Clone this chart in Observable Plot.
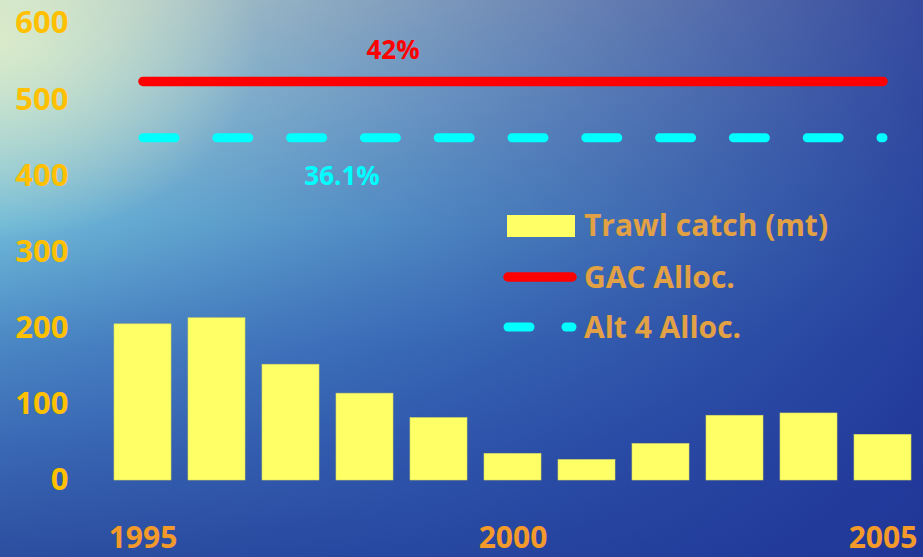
<!DOCTYPE html>
<html>
<head>
<meta charset="utf-8">
<script src="https://cdn.jsdelivr.net/npm/d3@7"></script>
<script src="https://cdn.jsdelivr.net/npm/@observablehq/plot@0.6"></script>
<style>
  html, body { margin: 0; padding: 0; }
  #wrap {
    position: relative; width: 923px; height: 557px; overflow: hidden;
    font-family: "Open Sans", Lato, sans-serif;
    background:
      radial-gradient(ellipse 260px 200px at 0px 40px, rgba(225,238,200,0.85) 0%, rgba(225,238,200,0) 100%),
      linear-gradient(to right, rgba(30,60,160,0) 0%, rgba(30,60,160,0.4) 45%, rgba(30,50,150,0.85) 100%),
      linear-gradient(to bottom, #c0dcd0 0%, #9ccfd8 18%, #6eb9d8 40%, #4a86c4 62%, #3a68b4 80%, #2c4ea0 100%);
  }
  #chart { position: absolute; left: 0; top: 0; }
  #legend { position: absolute; left: 0; top: 0; }
</style>
</head>
<body>
<div id="wrap">
  <div id="chart"></div>
  <svg id="legend" width="923" height="557"></svg>
</div>
<script>
const years = ["1995","1996","1997","1998","1999","2000","2001","2002","2003","2004","2005"];
const trawlCatch = [205, 213, 152, 114, 82, 35, 27, 48, 85, 88, 60];
const gacAlloc = 524;
const alt4Alloc = 450;
const gacLabel = "42%";
const alt4Label = "36.1%";
const yTicks = [0, 100, 200, 300, 400, 500, 600];
const xTicks = ["1995", "2000", "2005"];
const legendLabels = ["Trawl catch (mt)", "GAC Alloc.", "Alt 4 Alloc."];

const bars = years.map((year, i) => ({year, value: trawlCatch[i]}));
const lineEnds = [years[0], years[years.length - 1]];
const gacLine = lineEnds.map(year => ({year, value: gacAlloc}));
const altLine = lineEnds.map(year => ({year, value: alt4Alloc}));

const FONT = "'Open Sans', Lato, sans-serif";

const chart = Plot.plot({
  width: 923,
  height: 557,
  marginLeft: 113,
  marginRight: 11,
  marginTop: 23,
  marginBottom: 77,
  style: {background: "transparent", fontFamily: FONT, overflow: "visible"},
  x: {domain: years, paddingInner: 0.23, paddingOuter: 0, label: null},
  y: {domain: [0, 600], label: null},
  marks: [
    Plot.barY(bars, {x: "year", y: "value", fill: "#FFFF66", stroke: "#d8d860", strokeWidth: 0.6}),
    Plot.lineY(gacLine, {x: "year", y: "value", stroke: "#FF0000", strokeWidth: 9.5, strokeLinecap: "round"}),
    Plot.lineY(altLine, {x: "year", y: "value", stroke: "#00FFFF", strokeWidth: 9, strokeLinecap: "round", strokeDasharray: "32,41.8"}),
    Plot.text([gacLabel], {x: () => "1998", y: () => gacAlloc, text: d => d, dx: 28, dy: -31, fill: "#FF0000", fontSize: 26, fontWeight: "bold"}),
    Plot.text([alt4Label], {x: () => "1998", y: () => alt4Alloc, text: d => d, dx: -23, dy: 39, fill: "#00FFFF", fontSize: 26, fontWeight: "bold"}),
    Plot.axisY({ticks: yTicks, tickSize: 0, tickPadding: 45, fontSize: 31, fontWeight: "bold", fill: "#FFC000", tickFormat: d => String(d), label: null}),
    Plot.axisX({ticks: xTicks, tickSize: 0, tickPadding: 46, fontSize: 30, fontWeight: "bold", fill: "#F39A2B", label: null})
  ]
});
document.getElementById("chart").appendChild(chart);

// Legend (drawn inside the plot area, as in the reference)
const lg = d3.select("#legend");
const txtColor = "#E2A144";
lg.append("rect").attr("x", 507).attr("y", 215).attr("width", 68).attr("height", 22).attr("fill", "#FFFF66");
lg.append("line").attr("x1", 508).attr("x2", 572).attr("y1", 277).attr("y2", 277)
  .attr("stroke", "#FF0000").attr("stroke-width", 9.5).attr("stroke-linecap", "round");
lg.append("line").attr("x1", 508).attr("x2", 530).attr("y1", 327).attr("y2", 327)
  .attr("stroke", "#00FFFF").attr("stroke-width", 9).attr("stroke-linecap", "round");
lg.append("line").attr("x1", 566).attr("x2", 572).attr("y1", 327).attr("y2", 327)
  .attr("stroke", "#00FFFF").attr("stroke-width", 9).attr("stroke-linecap", "round");
[225, 277, 327].forEach((cy, i) => {
  lg.append("text").attr("x", 584).attr("y", cy).attr("dy", "0.35em")
    .attr("fill", txtColor).attr("font-size", 30).attr("font-weight", "bold")
    .attr("font-family", FONT)
    .text(legendLabels[i]);
});
</script>
</body>
</html>
